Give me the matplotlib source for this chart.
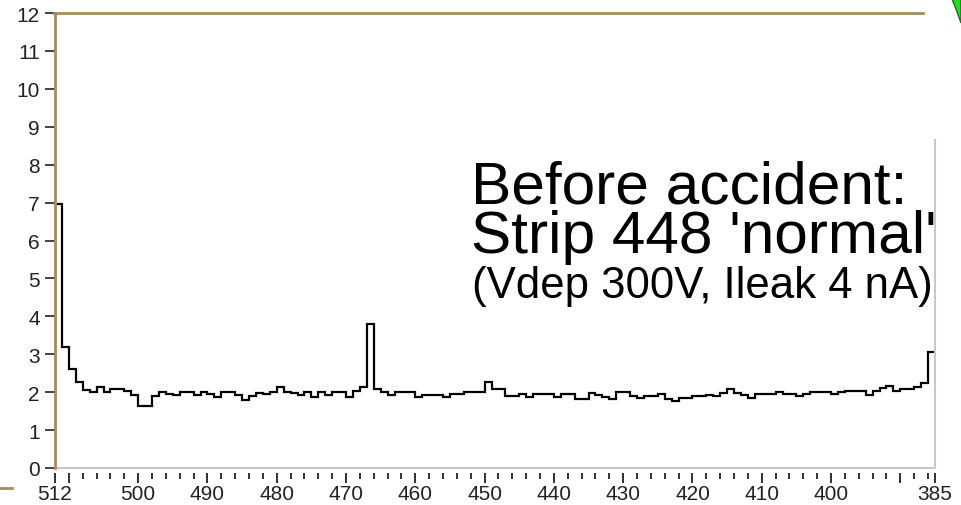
import numpy as np
import matplotlib.pyplot as plt
from matplotlib.ticker import FixedLocator, FixedFormatter
from matplotlib.lines import Line2D
from matplotlib.patches import Polygon

plt.rcParams["font.family"] = ["Liberation Sans", "DejaVu Sans"]

# strip numbers run backwards, one bin per strip from 512 down to 385
strip_first = 512
strip_last = 385
noise = [
    6.95, 3.2, 2.6, 2.27, 2.06, 2.0, 2.14, 2.0, 2.08, 2.08,
    2.03, 1.93, 1.64, 1.64, 1.91, 2.01, 1.96, 1.92, 2.01, 2.01,
    1.92, 2.01, 1.95, 1.88, 2.01, 2.01, 1.92, 1.80, 1.91, 1.98,
    1.95, 2.0, 2.13, 2.0, 1.97, 1.93, 2.0, 1.87, 2.0, 1.93,
    2.0, 2.0, 1.87, 2.04, 2.13, 3.8, 2.08, 2.0, 1.93, 2.0,
    2.0, 2.0, 1.87, 1.93, 1.93, 1.93, 1.88, 1.95, 1.95, 2.0,
    2.0, 2.0, 2.26, 2.08, 2.08, 1.89, 1.89, 1.95, 1.88, 1.95,
    1.95, 1.95, 1.88, 1.95, 1.95, 1.82, 1.82, 1.98, 1.93, 1.88,
    1.82, 2.0, 2.0, 1.91, 1.85, 1.89, 1.89, 1.95, 1.82, 1.78,
    1.85, 1.85, 1.89, 1.89, 1.93, 1.89, 1.98, 2.08, 1.98, 1.93,
    1.85, 1.95, 1.95, 1.95, 2.0, 1.95, 1.95, 1.89, 1.95, 2.0,
    2.0, 2.0, 1.95, 2.0, 2.04, 2.04, 2.04, 1.93, 2.04, 2.10,
    2.17, 2.04, 2.08, 2.08, 2.13, 2.24, 3.05,
]
y_ticks = list(range(0, 13))
x_major = [512, 510, 500, 490, 480, 470, 460, 450, 440, 430, 420, 410, 400, 390, 385]
x_labels = ["512", "", "500", "490", "480", "470", "460", "450", "440",
            "430", "420", "410", "400", "", "385"]
x_minor = [s for s in range(386, 512, 2) if s % 10 != 0]

title_lines = ["Before accident:", "Strip 448 'normal'"]
detail_line = "(Vdep 300V, Ileak 4 nA)"

brown = "#a88c58"
frame_gray = "#c8c8c8"
tick_col = "#222222"

W, H = 961, 506
fig = plt.figure(figsize=(W / 100, H / 100), dpi=100)
ax = fig.add_axes([55 / W, 1 - 469 / H, (935 - 55) / W, (469 - 14) / H])

edges = np.arange(strip_first, strip_first - len(noise) - 1, -1)
ax.stairs(noise, edges, baseline=None, color="black", lw=1.6)
ax.vlines(edges[0], 0, noise[0], color="black", lw=1.6)

ax.set_xlim(strip_first, strip_last)
ax.set_ylim(0, 12)

for side in ["top", "right", "bottom"]:
    ax.spines[side].set_visible(False)
ax.spines["bottom"].set_position(("outward", 3.5))
ax.spines["left"].set_color(brown)
ax.spines["left"].set_linewidth(2)
ax.spines["left"].set_zorder(5)

# light frame on the bottom and right side
ax.axhline(0, color=frame_gray, lw=1.5, clip_on=False)
ax.plot([strip_last, strip_last], [0, 8.65], color=frame_gray, lw=1.5, clip_on=False)

ax.yaxis.set_major_locator(FixedLocator(y_ticks))
ax.tick_params(axis="y", direction="out", length=7, width=1.2, pad=4,
               labelsize=15, colors=tick_col)
ax.xaxis.set_major_locator(FixedLocator(x_major))
ax.xaxis.set_major_formatter(FixedFormatter(x_labels))
ax.xaxis.set_minor_locator(FixedLocator(x_minor))
ax.tick_params(axis="x", which="major", direction="out", length=7, width=1.3,
               pad=1, labelsize=15, colors=tick_col)
ax.tick_params(axis="x", which="minor", direction="out", length=4, width=1.3,
               colors=tick_col)

# slide decorations around the plot
fig.add_artist(Line2D([54 / W, 923 / W], [1 - 14 / H, 1 - 14 / H],
                      color=brown, lw=2, transform=fig.transFigure))
fig.add_artist(Line2D([0, 12 / W], [1 - 489 / H, 1 - 489 / H],
                      color=brown, lw=2, transform=fig.transFigure))
fig.add_artist(Polygon([[952 / W, 1.0], [961 / W, 1.0], [961 / W, 1 - 24 / H],
                        [956 / W, 1 - 10 / H]], closed=True,
                       facecolor="#22dd22", edgecolor="#117711", lw=1,
                       transform=fig.transFigure))

fig.text(471 / W, 1 - 253 / H, "\n".join(title_lines), fontsize=43.5,
         va="baseline", ha="left", linespacing=0.87)
fig.text(472 / W, 1 - 298 / H, detail_line, fontsize=31.5, va="baseline", ha="left")

fig.savefig("out.png", dpi=100)
